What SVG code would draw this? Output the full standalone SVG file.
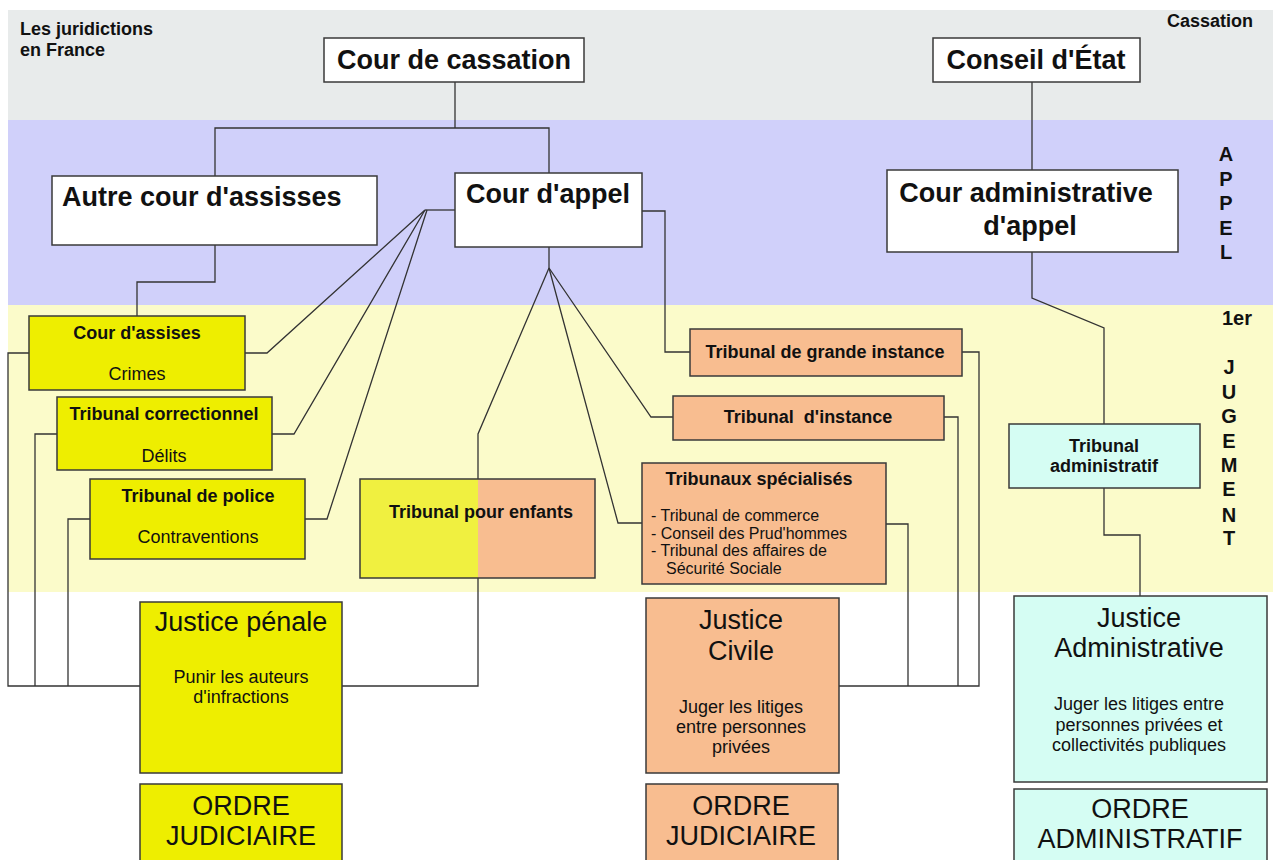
<svg xmlns="http://www.w3.org/2000/svg" width="1273" height="860" viewBox="0 0 1273 860">
<style>
text{font-family:"Liberation Sans",Arial,sans-serif;fill:#111}
.big{font-size:27px;font-weight:bold}
.lbl{font-size:18px;font-weight:bold}
.sub{font-size:18px}
.jt{font-size:27px}
.ls{font-size:16px}
.side{font-size:20px;font-weight:bold;text-anchor:middle}
.m{text-anchor:middle}
.w,.y,.o,.c,.f{stroke:#3a3a3a;stroke-width:1.5}
.w{fill:#ffffff}
.y{fill:#eeee00}
.o{fill:#f8bd90}
.c{fill:#d5fdf3}
.f{fill:none}
.conn path{fill:none;stroke:#333;stroke-width:1.3}
</style>
<rect x="0" y="0" width="1273" height="860" fill="#ffffff"/>
<g id="bands">
<rect x="8" y="10" width="1265" height="110" fill="#e8ebeb"/>
<rect x="8" y="120" width="1265" height="185" fill="#d0d0fa"/>
<rect x="8" y="305" width="1265" height="287" fill="#fbfbca"/>
</g>
<g id="labels">
<text class="lbl" x="20" y="35">Les juridictions</text>
<text class="lbl" x="20" y="56">en France</text>
<text class="lbl" x="1167" y="27">Cassation</text>
<text class="side" x="1226" y="161">A</text>
<text class="side" x="1226" y="186">P</text>
<text class="side" x="1226" y="210">P</text>
<text class="side" x="1226" y="235">E</text>
<text class="side" x="1226" y="259">L</text>
<text class="side" x="1237" y="325">1er</text>
<text class="side" x="1229" y="374">J</text>
<text class="side" x="1229" y="399">U</text>
<text class="side" x="1229" y="423">G</text>
<text class="side" x="1229" y="448">E</text>
<text class="side" x="1229" y="472">M</text>
<text class="side" x="1229" y="496">E</text>
<text class="side" x="1229" y="522">N</text>
<text class="side" x="1229" y="545">T</text>
</g>
<g class="conn" id="connectors">
<path d="M455,82 V128"/>
<path d="M215,176 V128 H549 V173"/>
<path d="M215,245 V282 H137 V316"/>
<path d="M455,210 H425"/>
<path d="M425,210 L267,353 H245"/>
<path d="M425,210 L294,434 H272"/>
<path d="M427,210 L327,519 H305"/>
<path d="M549,247 V268"/>
<path d="M549,268 L478,434 V686 H342"/>
<path d="M549,268 L618,523 H642"/>
<path d="M549,268 L651,417 H673"/>
<path d="M642,211 H665 V352 H690"/>
<path d="M962,352 H979 V686 H839"/>
<path d="M944,417 H958 V686"/>
<path d="M886,524 H908 V686"/>
<path d="M29,353 H8 V686 H140"/>
<path d="M57,434 H35 V686"/>
<path d="M90,519 H68 V686"/>
<path d="M1032,82 V170"/>
<path d="M1032,252 V298 L1104,328 V424"/>
<path d="M1104,488 V535 H1140 V596"/>
</g>
<g id="cour-cassation">
<rect class="w" x="324" y="38" width="260" height="44"/>
<text class="big m" x="454" y="69">Cour de cassation</text>
</g>
<g id="conseil-etat">
<rect class="w" x="933" y="38" width="207" height="44"/>
<text class="big m" x="1036" y="69">Conseil d'État</text>
</g>
<g id="autre-cour-assises">
<rect class="w" x="52" y="176" width="325" height="69"/>
<text class="big" x="62" y="206">Autre cour d'assisses</text>
</g>
<g id="cour-appel">
<rect class="w" x="455" y="173" width="187" height="74"/>
<text class="big" x="466" y="203">Cour d'appel</text>
</g>
<g id="cour-admin-appel">
<rect class="w" x="887" y="170" width="291" height="82"/>
<text class="big m" x="1026" y="202">Cour administrative</text>
<text class="big m" x="1030" y="235">d'appel</text>
</g>
<g id="cour-assises">
<rect class="y" x="29" y="316" width="216" height="74"/>
<text class="lbl m" x="137" y="339">Cour d'assises</text>
<text class="sub m" x="137" y="380">Crimes</text>
</g>
<g id="tribunal-correctionnel">
<rect class="y" x="57" y="397" width="215" height="73"/>
<text class="lbl m" x="164" y="420">Tribunal correctionnel</text>
<text class="sub m" x="164" y="462">Délits</text>
</g>
<g id="tribunal-police">
<rect class="y" x="90" y="479" width="215" height="80"/>
<text class="lbl m" x="198" y="502">Tribunal de police</text>
<text class="sub m" x="198" y="543">Contraventions</text>
</g>
<g id="tribunal-enfants">
<rect x="360" y="479" width="118" height="99" fill="#f0f040"/>
<rect x="478" y="479" width="117" height="99" fill="#f8bd90"/>
<rect class="f" x="360" y="479" width="235" height="99"/>
<text class="lbl m" x="481" y="518">Tribunal pour enfants</text>
</g>
<g id="tgi">
<rect class="o" x="690" y="329" width="272" height="47"/>
<text class="lbl m" x="825" y="358">Tribunal de grande instance</text>
</g>
<g id="ti">
<rect class="o" x="673" y="396" width="271" height="44"/>
<text class="lbl m" x="808" y="423" xml:space="preserve">Tribunal  d'instance</text>
</g>
<g id="tribunaux-specialises">
<rect class="o" x="642" y="463" width="244" height="121"/>
<text class="lbl m" x="759" y="485">Tribunaux spécialisés</text>
<text class="ls" x="651" y="521">- Tribunal de commerce</text>
<text class="ls" x="651" y="539">- Conseil des Prud'hommes</text>
<text class="ls" x="651" y="556">- Tribunal des affaires de</text>
<text class="ls" x="666" y="574">Sécurité Sociale</text>
</g>
<g id="tribunal-administratif">
<rect class="c" x="1009" y="424" width="191" height="64"/>
<text class="lbl m" x="1104" y="452">Tribunal</text>
<text class="lbl m" x="1104" y="472">administratif</text>
</g>
<g id="justice-penale">
<rect class="y" x="140" y="602" width="202" height="171"/>
<text class="jt m" x="241" y="631">Justice pénale</text>
<text class="sub m" x="241" y="683">Punir les auteurs</text>
<text class="sub m" x="241" y="703">d'infractions</text>
</g>
<g id="ordre-judiciaire-penal">
<rect class="y" x="140" y="784" width="202" height="100"/>
<text class="jt m" x="241" y="815">ORDRE</text>
<text class="jt m" x="241" y="845">JUDICIAIRE</text>
</g>
<g id="justice-civile">
<rect class="o" x="646" y="598" width="193" height="175"/>
<text class="jt m" x="741" y="629">Justice</text>
<text class="jt m" x="741" y="660">Civile</text>
<text class="sub m" x="741" y="713">Juger les litiges</text>
<text class="sub m" x="741" y="733">entre personnes</text>
<text class="sub m" x="741" y="753">privées</text>
</g>
<g id="ordre-judiciaire-civil">
<rect class="o" x="646" y="784" width="192" height="100"/>
<text class="jt m" x="741" y="815">ORDRE</text>
<text class="jt m" x="741" y="845">JUDICIAIRE</text>
</g>
<g id="justice-administrative">
<rect class="c" x="1014" y="596" width="253" height="186"/>
<text class="jt m" x="1139" y="627">Justice</text>
<text class="jt m" x="1139" y="657">Administrative</text>
<text class="sub m" x="1139" y="710">Juger les litiges entre</text>
<text class="sub m" x="1139" y="731">personnes privées et</text>
<text class="sub m" x="1139" y="751">collectivités publiques</text>
</g>
<g id="ordre-administratif">
<rect class="c" x="1014" y="789" width="253" height="95"/>
<text class="jt m" x="1140" y="818">ORDRE</text>
<text class="jt m" x="1140" y="848">ADMINISTRATIF</text>
</g>
</svg>
